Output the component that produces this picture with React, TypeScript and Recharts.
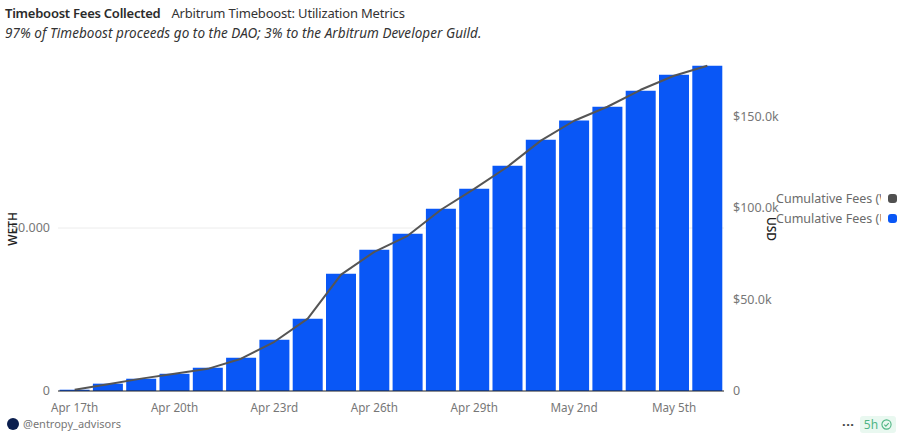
import {
  ComposedChart,
  Bar,
  Line,
  XAxis,
  YAxis,
  CartesianGrid,
} from "recharts";

const days = [
  "Apr 17th", "Apr 18th", "Apr 19th", "Apr 20th", "Apr 21st",
  "Apr 22nd", "Apr 23rd", "Apr 24th", "Apr 25th", "Apr 26th",
  "Apr 27th", "Apr 28th", "Apr 29th", "Apr 30th", "May 1st",
  "May 2nd", "May 3rd", "May 4th", "May 5th", "May 6th",
];

const feesUsd = [
  700, 4000, 6700, 9400, 12700, 18200, 28000, 39500, 64000, 77100,
  85900, 99500, 110400, 123000, 137200, 147600, 155200, 163900, 172700, 177600,
];

const feesWeth = [
  0.4, 2.1, 3.8, 5.3, 6.8, 9.9, 15.1, 22.2, 35.7, 42.7,
  47.6, 55.6, 62, 68.8, 76.8, 82.9, 87.2, 92.4, 96.7, 99.8,
];

const wethTicks = [0, 50];
const usdTicks = [0, 50000, 100000, 150000];
const gridValues = [50];

const data = days.map((day, i) => ({
  day,
  usd: feesUsd[i],
  weth: feesWeth[i],
}));

const FONT = '"Noto Sans", sans-serif';
const BLUE = "#0957f6";
const GREY = "#555555";
const TICK = "#777777";

const formatWeth = (v: number) => (v === 0 ? "0" : v.toFixed(3));
const formatUsd = (v: number) => (v === 0 ? "0" : `$${(v / 1000).toFixed(1)}k`);

const legendItems = [
  { name: "Cumulative Fees (WETH)", color: "#505050" },
  { name: "Cumulative Fees (USD)", color: BLUE },
];

const App = () => {
  return (
    <div
      style={{
        position: "absolute",
        left: 0,
        top: 0,
        width: 902,
        height: 437,
        overflow: "hidden",
        background: "#fff",
        fontFamily: FONT,
      }}
    >
      <div style={{ position: "absolute", left: 5, top: 4, whiteSpace: "nowrap", fontSize: 13, color: "#333" }}>
        <span style={{ fontWeight: 600, color: "#2b2b2b", letterSpacing: -0.24 }}>Timeboost Fees Collected</span>
        <span style={{ marginLeft: 11, letterSpacing: -0.18 }}>Arbitrum Timeboost: Utilization Metrics</span>
      </div>
      <div style={{ position: "absolute", left: 5, top: 24, whiteSpace: "nowrap", fontSize: 13.5, fontStyle: "italic", color: "#333", letterSpacing: 0.05 }}>
        97% of Timeboost proceeds go to the DAO; 3% to the Arbitrum Developer Guild.
      </div>

      <div style={{ position: "absolute", left: 0, top: 0 }}>
        <ComposedChart
          width={902}
          height={437}
          data={data}
          barCategoryGap={1.6}
          margin={{ top: 51, right: 0, bottom: 0, left: 0 }}
        >
          <CartesianGrid yAxisId="left" horizontalValues={gridValues} vertical={false} stroke="#ececec" />
          <XAxis
            dataKey="day"
            interval={2}
            height={46}
            axisLine={{ stroke: "#222" }}
            tickLine={false}
            tickMargin={7}
            tick={{ fontSize: 11.7, fill: TICK, fontFamily: FONT }}
          />
          <YAxis
            yAxisId="left"
            width={58}
            domain={[0, 104.3]}
            ticks={wethTicks}
            tickFormatter={formatWeth}
            axisLine={false}
            tickLine={false}
            tickMargin={2}
            tick={{ fontSize: 12.5, fill: TICK, fontFamily: FONT }}
            label={{ value: "WETH", angle: -90, position: "insideLeft", offset: 13, dy: 8, style: { fontSize: 12, fontWeight: 500, fill: "#222", fontFamily: FONT, textAnchor: "middle" } }}
          />
          <YAxis
            yAxisId="right"
            orientation="right"
            width={178}
            domain={[0, 185600]}
            ticks={usdTicks}
            tickFormatter={formatUsd}
            axisLine={false}
            tickLine={false}
            tickMargin={3}
            tick={{ fontSize: 12.5, fill: TICK, fontFamily: FONT }}
            label={{ value: "USD", angle: 90, position: "insideLeft", offset: 47, dy: 8, style: { fontSize: 12, fontWeight: 500, fill: "#222", fontFamily: FONT, textAnchor: "middle" } }}
          />
          <Bar yAxisId="right" dataKey="usd" fill={BLUE} isAnimationActive={false} />
          <Line
            yAxisId="left"
            type="linear"
            dataKey="weth"
            stroke={GREY}
            strokeWidth={2}
            strokeLinejoin="round"
            dot={false}
            isAnimationActive={false}
          />
        </ComposedChart>
      </div>

      <div style={{ position: "absolute", left: 776, top: 188, width: 121 }}>
        {legendItems.map((item) => (
          <div
            key={item.name}
            style={{ display: "flex", alignItems: "center", height: 20.5, justifyContent: "space-between" }}
          >
            <span style={{ width: 105, overflow: "hidden", whiteSpace: "nowrap", fontSize: 12.5, color: "#6b6b6b" }}>
              {item.name}
            </span>
            <span style={{ width: 9, height: 9, borderRadius: 3, background: item.color }} />
          </div>
        ))}
      </div>

      <div style={{ position: "absolute", left: 7, top: 418, width: 12, height: 12, borderRadius: "50%", background: "#0b1f4f" }} />
      <div style={{ position: "absolute", left: 23, top: 416, fontSize: 11, color: "#777", whiteSpace: "nowrap" }}>
        @entropy_advisors
      </div>
      <div style={{ position: "absolute", left: 842, top: 412, fontSize: 13, fontWeight: 700, color: "#444", letterSpacing: 0.5 }}>
        ...
      </div>
      <div
        style={{
          position: "absolute",
          left: 860,
          top: 416,
          width: 36,
          height: 17,
          borderRadius: 3,
          background: "#e9f8f0",
          color: "#4fb584",
          fontSize: 12,
          display: "flex",
          alignItems: "center",
          justifyContent: "center",
          gap: 3,
        }}
      >
        5h
        <svg width="11" height="11" viewBox="0 0 12 12">
          <circle cx="6" cy="6" r="5" fill="none" stroke="#4fb584" strokeWidth="1.2" />
          <path d="M3.6 6.2 L5.3 7.8 L8.4 4.6" fill="none" stroke="#4fb584" strokeWidth="1.2" />
        </svg>
      </div>
    </div>
  );
};

export default App;
